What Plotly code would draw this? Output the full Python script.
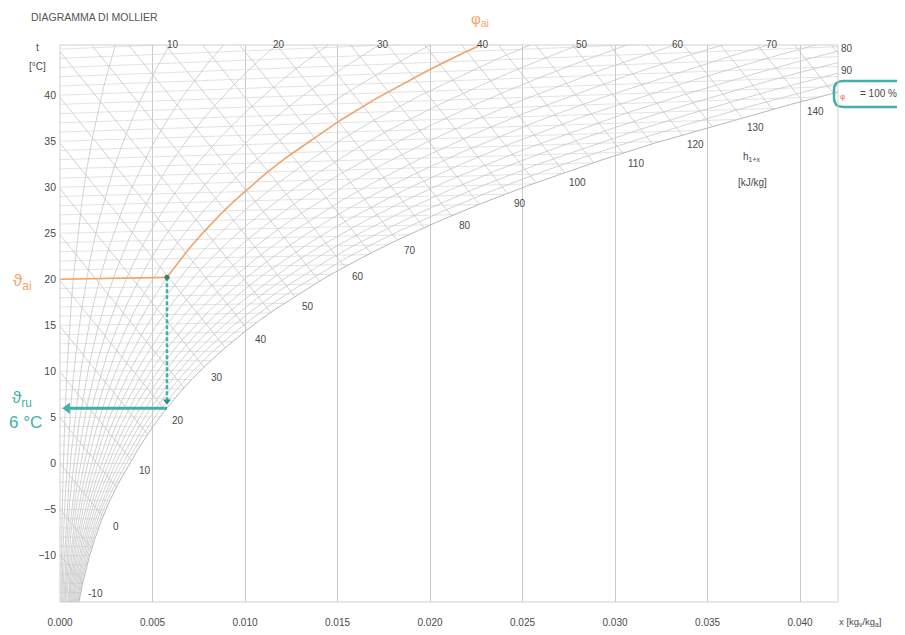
import numpy as np
import plotly.graph_objects as go

# ---------------- data ----------------
T_TICKS = [-10, -5, 0, 5, 10, 15, 20, 25, 30, 35, 40]
X_TICKS = [0.000, 0.005, 0.010, 0.015, 0.020, 0.025, 0.030, 0.035, 0.040]
ISOTHERMS = list(range(-15, 46, 1))
PHI_LINES = [5, 10, 15, 20, 25, 30, 35, 40, 45, 50, 55, 60, 65, 70, 75, 80, 85, 90, 95]
PHI_LABELS_TOP = [10, 20, 30, 40, 50, 60, 70]
PHI_LABELS_RIGHT = [80, 90]
H_LINES = list(range(-15, 155, 5))
H_LABELS = [-10, 0, 10, 20, 30, 40, 50, 60, 70, 80, 90, 100, 110, 120, 130, 140]
T_AI = 20      # internal air temperature [°C]
PHI_AI = 40    # internal relative humidity [%]
T_RU = 6       # dew point [°C]
P_TOT = 101.325

X_MAX = 0.04205
Y_MIN, Y_MAX = -15.05, 45.45

GRID = "#c6c6c6"
ISO = "#dcdcdc"
ORANGE = "#f2a469"
TEAL = "#3fb0aa"
TXT = "#555555"
NUM = "#4a4a4a"


def psat(t):
    t = np.asarray(t, dtype=float)
    return np.where(t >= 0,
                    0.61094 * np.exp(17.625 * t / (t + 243.04)),
                    0.61115 * np.exp(22.452 * t / (272.55 + t)))


def x_of(t, phi):
    pv = phi / 100.0 * psat(t)
    return 0.622 * pv / (P_TOT - pv)


def Y_of(t, x):
    return t * (1 + 1.86 / 1.006 * x)


tgrid = np.linspace(-20, 50, 7001)

fig = go.Figure()


def add_lines(xs_list, ys_list, color, width, dash="solid"):
    X, Yv = [], []
    for xs, ys in zip(xs_list, ys_list):
        X += list(xs) + [None]
        Yv += list(ys) + [None]
    fig.add_trace(go.Scatter(x=X, y=Yv, mode="lines",
                             line=dict(color=color, width=width, dash=dash),
                             hoverinfo="skip", showlegend=False))


# isotherms (from x=0 to saturation)
xs_l, ys_l = [], []
for t in ISOTHERMS:
    xe = min(float(x_of(t, 100)), X_MAX)
    xs_l.append([0, xe])
    ys_l.append([Y_of(t, 0), Y_of(t, xe)])
add_lines(xs_l, ys_l, ISO, 0.8)

# relative humidity curves
xs_l, ys_l = [], []
for phi in PHI_LINES:
    xx = x_of(tgrid, phi)
    yy = Y_of(tgrid, xx)
    m = (yy <= Y_MAX + 1) & (xx <= X_MAX + 0.002)
    xs_l.append(xx[m])
    ys_l.append(yy[m])
add_lines(xs_l, ys_l, GRID, 0.8)

# enthalpy lines (straight in Mollier coordinates)
hs_sat = 1.006 * tgrid + x_of(tgrid, 100) * (2501 + 1.86 * tgrid)
h_int = {}
xs_l, ys_l = [], []
for h in H_LINES:
    ti = float(np.interp(h, hs_sat, tgrid))
    xi = float(x_of(ti, 100))
    yi = float(Y_of(ti, xi))
    h_int[h] = (xi, yi)
    x0 = max(0.0, (h - 1.006 * Y_MAX) / 2501)
    y0 = (h - 2501 * x0) / 1.006
    xs_l.append([x0, xi])
    ys_l.append([y0, yi])
add_lines(xs_l, ys_l, GRID, 0.8)

# saturation curve
xsat = x_of(tgrid, 100)
ysat = Y_of(tgrid, xsat)
m = (ysat >= Y_MIN - 1) & (xsat <= X_MAX + 0.002)
add_lines([xsat[m]], [ysat[m]], "#b8b8b8", 1.0)

# process: orange (internal air)
x_ai = float(x_of(T_AI, PHI_AI))
tt = tgrid[tgrid >= T_AI]
xo = x_of(tt, PHI_AI)
yo = Y_of(tt, xo)
mo = yo <= Y_MAX + 1
fig.add_trace(go.Scatter(x=[0, x_ai], y=[T_AI, Y_of(T_AI, x_ai)], mode="lines",
                         line=dict(color=ORANGE, width=1.6), hoverinfo="skip", showlegend=False))
fig.add_trace(go.Scatter(x=xo[mo], y=yo[mo], mode="lines",
                         line=dict(color=ORANGE, width=1.6), hoverinfo="skip", showlegend=False))

# dew point construction (teal)
y_top = float(Y_of(T_AI, x_ai))
y_bot = float(Y_of(T_RU, x_ai))
fig.add_trace(go.Scatter(x=[x_ai, x_ai], y=[y_top, y_bot + 0.6], mode="lines",
                         line=dict(color=TEAL, width=2.5, dash="4px,2px"),
                         hoverinfo="skip", showlegend=False))
fig.add_trace(go.Scatter(x=[x_ai], y=[y_bot + 0.7], mode="markers",
                         marker=dict(symbol="triangle-down", size=7, color="#2e8f88"),
                         hoverinfo="skip", showlegend=False))
fig.add_trace(go.Scatter(x=[x_ai, 0.0005], y=[T_RU, T_RU], mode="lines",
                         line=dict(color=TEAL, width=3), hoverinfo="skip", showlegend=False))
fig.add_trace(go.Scatter(x=[0.0004], y=[T_RU], mode="markers",
                         marker=dict(symbol="triangle-left", size=10, color=TEAL),
                         hoverinfo="skip", showlegend=False))
fig.add_trace(go.Scatter(x=[x_ai], y=[y_top], mode="markers",
                         marker=dict(symbol="circle", size=5, color="#3a7f5a"),
                         hoverinfo="skip", showlegend=False))

ann = []
# enthalpy labels
for h in H_LABELS:
    xi, yi = h_int[h]
    ann.append(dict(x=xi, y=yi, xref="x", yref="y", text=str(h), showarrow=False,
                    xshift=13, yshift=-10, font=dict(size=10, color=NUM)))
# phi labels on top
for phi in PHI_LABELS_TOP:
    xx = x_of(tgrid, phi)
    yy = Y_of(tgrid, xx)
    tt_ = float(np.interp(Y_MAX, yy, tgrid))
    xt = float(x_of(tt_, phi))
    ann.append(dict(x=xt, y=Y_MAX, xref="x", yref="y", text=str(phi), showarrow=False,
                    xshift=3, yshift=1, font=dict(size=10, color=NUM)))
# phi labels at the right edge
for phi in PHI_LABELS_RIGHT:
    xx = x_of(tgrid, phi)
    tt_ = float(np.interp(X_MAX, xx, tgrid))
    yr = float(Y_of(tt_, X_MAX))
    ann.append(dict(x=1, y=yr, xref="paper", yref="y", text=str(phi), showarrow=False,
                    xanchor="left", xshift=1, yshift=2, font=dict(size=10, color=NUM)))


def px2paper(px, py):
    # page pixel -> paper coords (plot area spans page px 60..838, 45..602)
    return (px - 60) / 778.0, (602 - py) / 557.0


def add_text(px, py, text, size, color, xanchor="center"):
    xp, yp = px2paper(px, py)
    ann.append(dict(x=xp, y=yp, xref="paper", yref="paper", text=text, showarrow=False,
                    xanchor=xanchor, yanchor="middle", font=dict(size=size, color=color)))


add_text(29, 17, "DIAGRAMMA DI MOLLIER", 10.5, TXT, xanchor="left")
add_text(37, 48, "t", 10, NUM)
add_text(37, 66, "[°C]", 10, NUM)
add_text(837, 622, "x [kg<sub>v</sub>/kg<sub>a</sub>]", 9.5, NUM, xanchor="left")
add_text(752, 157, "h<sub>1+x</sub>", 10, NUM)
add_text(752, 182, "[kJ/kg]", 10, NUM)
add_text(480, 20, "φ<sub>ai</sub>", 15, ORANGE)
add_text(22, 282, "ϑ<sub>ai</sub>", 17, ORANGE)
add_text(22, 399, "ϑ<sub>ru</sub>", 17, TEAL)
add_text(25, 422, "6 °C", 17, TEAL)
add_text(842, 97, "φ", 8, "#e07050")
add_text(878, 93, "= 100 %", 10, NUM)

# rounded box around φ = 100 %
x0, y0 = px2paper(834, 81)
x1, y1 = px2paper(912, 107)
rx, ry = 9 / 778.0, 9 / 557.0
path = (f"M {x0+rx},{y0} L {x1-rx},{y0} Q {x1},{y0} {x1},{y0-ry} "
        f"L {x1},{y1+ry} Q {x1},{y1} {x1-rx},{y1} L {x0+rx},{y1} "
        f"Q {x0},{y1} {x0},{y1+ry} L {x0},{y0-ry} Q {x0},{y0} {x0+rx},{y0} Z")
shapes = [
    dict(type="path", path=path, xref="paper", yref="paper",
         line=dict(color=TEAL, width=2.5), fillcolor="rgba(0,0,0,0)"),
    dict(type="rect", xref="paper", yref="paper", x0=0, y0=0, x1=1, y1=1,
         line=dict(color="#cfcfcf", width=1), fillcolor="rgba(0,0,0,0)"),
]

# page body has an 8px margin: figure 897x627, plot area at page px 60..838 / 45..602
fig.update_layout(
    width=897, height=627,
    margin=dict(l=52, r=67, t=37, b=33, autoexpand=False),
    paper_bgcolor="white", plot_bgcolor="white",
    font=dict(family="Liberation Sans, Arial, sans-serif", size=10, color=NUM),
    annotations=ann, shapes=shapes, showlegend=False,
)
fig.update_xaxes(range=[0, X_MAX], tickvals=X_TICKS,
                 ticktext=[f"{v:.3f}" for v in X_TICKS],
                 showgrid=True, gridcolor="#c9c9c9", gridwidth=1.3, automargin=False,
                 zeroline=False, showline=False, ticks="", ticklabelstandoff=13,
                 tickfont=dict(size=10, color=NUM))
fig.update_yaxes(range=[Y_MIN, Y_MAX], tickvals=T_TICKS, automargin=False,
                 showgrid=False, zeroline=False, showline=False, ticks="",
                 ticklabelstandoff=3, tickfont=dict(size=10.5, color=NUM))

fig.write_html("out.html")
